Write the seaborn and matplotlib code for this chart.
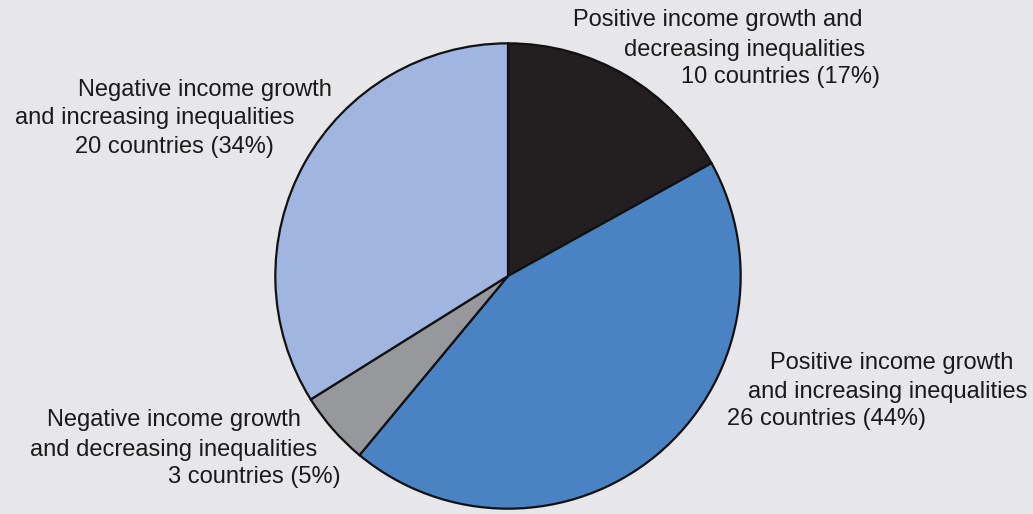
import matplotlib
matplotlib.use("Agg")
import matplotlib.pyplot as plt
import seaborn as sns

# slices, clockwise from 12 o'clock
groups = [
    "Positive income growth and decreasing inequalities",
    "Positive income growth and increasing inequalities",
    "Negative income growth and decreasing inequalities",
    "Negative income growth and increasing inequalities",
]
countries = [10, 26, 3, 20]
shares = [17, 44, 5, 34]
slice_colors = ["#231f20", "#4a83c4", "#97989b", "#a0b5df"]

# label lines as laid out in the source graphic
label_lines = [
    ["Positive income growth and", "decreasing inequalities", "10 countries (17%)"],
    ["Positive income growth", "and increasing inequalities", "26 countries (44%)"],
    ["Negative income growth", "and decreasing inequalities", "3 countries (5%)"],
    ["Negative income growth", "and increasing inequalities", "20 countries (34%)"],
]

sns.set_theme(style="white")
plt.rcParams["font.family"] = ["Liberation Sans", "DejaVu Sans"]
bg = "#e7e7e9"

W, H = 1033, 514
fig = plt.figure(figsize=(W / 100, H / 100), dpi=100, facecolor=bg)

# pie centre (508, 276) px, radius 235 px
cx, cy, r = 508, 276, 235
ax = fig.add_axes([(cx - r) / W, (H - cy - r) / H, 2 * r / W, 2 * r / H])
ax.set_facecolor(bg)
ax.pie(countries, colors=sns.color_palette(slice_colors), startangle=90,
       counterclock=False, radius=1,
       wedgeprops={"edgecolor": "#111111", "linewidth": 1.6})
ax.set_xlim(-1.01, 1.01)
ax.set_ylim(-1.01, 1.01)
ax.set_aspect("equal")
ax.axis("off")

# left x and centre y (px) for each line of each label
line_pos = [
    [(573, 20), (624, 50), (681, 77)],
    [(770, 363), (748, 392), (727, 419)],
    [(47, 420), (30, 450), (168, 477)],
    [(78, 90), (15, 118), (75, 147)],
]

for lines, pos in zip(label_lines, line_pos):
    for txt, (x, y) in zip(lines, pos):
        fig.text(x / W, 1 - y / H, txt, ha="left", va="center",
                 fontsize=17, color="#1a1a1a")

fig.savefig("out.png", dpi=100, facecolor=bg)
